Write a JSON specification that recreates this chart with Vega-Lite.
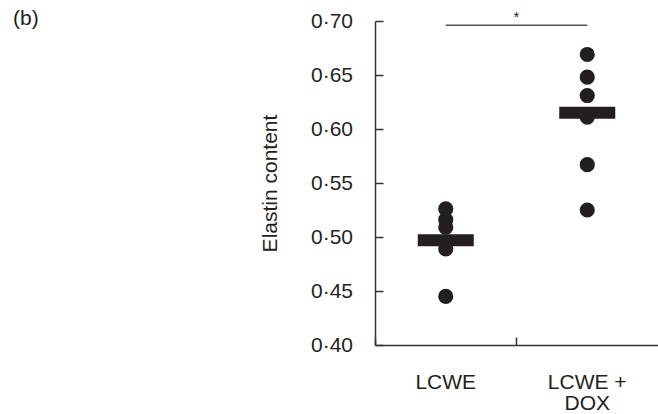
{
  "$schema": "https://vega.github.io/schema/vega-lite/v6.json",
  "autosize": "none",
  "width": 283,
  "height": 324,
  "padding": {"left": 375, "top": 21, "right": 0, "bottom": 69},
  "background": "white",
  "config": {
    "view": {"stroke": null},
    "font": "Liberation Sans",
    "axis": {"grid": false}
  },
  "title": {
    "text": "(b)",
    "anchor": "start",
    "frame": "group",
    "fontSize": 21,
    "fontWeight": "normal",
    "font": "Liberation Sans",
    "color": "#231f20",
    "baseline": "middle",
    "offset": 4,
    "dy": 34,
    "dx": -362
  },
  "datasets": {
    "points": [
      {"group": "LCWE", "elastin": 0.526},
      {"group": "LCWE", "elastin": 0.516},
      {"group": "LCWE", "elastin": 0.509},
      {"group": "LCWE", "elastin": 0.489},
      {"group": "LCWE", "elastin": 0.445},
      {"group": "LCWE + DOX", "elastin": 0.669},
      {"group": "LCWE + DOX", "elastin": 0.648},
      {"group": "LCWE + DOX", "elastin": 0.631},
      {"group": "LCWE + DOX", "elastin": 0.611},
      {"group": "LCWE + DOX", "elastin": 0.567},
      {"group": "LCWE + DOX", "elastin": 0.525}
    ],
    "means": [
      {"group": "LCWE", "elastin": 0.497},
      {"group": "LCWE + DOX", "elastin": 0.615}
    ],
    "sig": [
      {"from": "LCWE", "to": "LCWE + DOX", "level": 0.696, "mark": "*"}
    ]
  },
  "layer": [
    {
      "data": {"name": "points"},
      "mark": {"type": "circle", "size": 230, "color": "#231f20", "opacity": 1},
      "encoding": {
        "x": {
          "field": "group",
          "type": "nominal",
          "scale": {"domain": ["LCWE", "LCWE + DOX"], "paddingInner": 0, "paddingOuter": 0},
          "axis": {
            "title": null,
            "bandPosition": 0,
            "labelAngle": 0,
            "labelExpr": "datum.value == 'LCWE + DOX' ? ['LCWE +', 'DOX'] : datum.label",
            "labelFontSize": 21,
            "labelColor": "#231f20",
            "labelLineHeight": 21,
            "labelPadding": 34,
            "labelBaseline": "top",
            "tickSize": -8,
            "tickColor": "#333333",
            "tickWidth": 1.5,
            "domainColor": "#333333",
            "domainWidth": 1.5
          }
        },
        "y": {
          "field": "elastin",
          "type": "quantitative",
          "scale": {"domain": [0.4, 0.7], "nice": false, "zero": false},
          "axis": {
            "title": "Elastin content",
            "titleFontSize": 21,
            "titleFontWeight": "normal",
            "titleColor": "#231f20",
            "titlePadding": 30,
            "values": [0.4, 0.45, 0.5, 0.55, 0.6, 0.65, 0.7],
            "labelExpr": "replace(format(datum.value, '.2f'), '.', '·')",
            "labelFontSize": 21,
            "labelColor": "#231f20",
            "labelPadding": 30.5,
            "tickSize": -8,
            "tickColor": "#333333",
            "tickWidth": 1.5,
            "domainColor": "#333333",
            "domainWidth": 1.5
          }
        }
      }
    },
    {
      "data": {"name": "means"},
      "mark": {"type": "tick", "orient": "horizontal", "size": 56, "thickness": 12, "color": "#231f20", "opacity": 1},
      "encoding": {
        "x": {"field": "group", "type": "nominal"},
        "y": {"field": "elastin", "type": "quantitative"}
      }
    },
    {
      "data": {"name": "sig"},
      "mark": {"type": "rule", "color": "#555555", "strokeWidth": 1.6},
      "encoding": {
        "x": {"field": "from", "type": "nominal"},
        "x2": {"field": "to"},
        "y": {"field": "level", "type": "quantitative"}
      }
    },
    {
      "data": {"name": "sig"},
      "mark": {"type": "text", "fontSize": 15, "color": "#231f20", "baseline": "alphabetic", "dy": -3},
      "encoding": {
        "text": {"field": "mark"},
        "y": {"field": "level", "type": "quantitative"}
      }
    }
  ]
}
